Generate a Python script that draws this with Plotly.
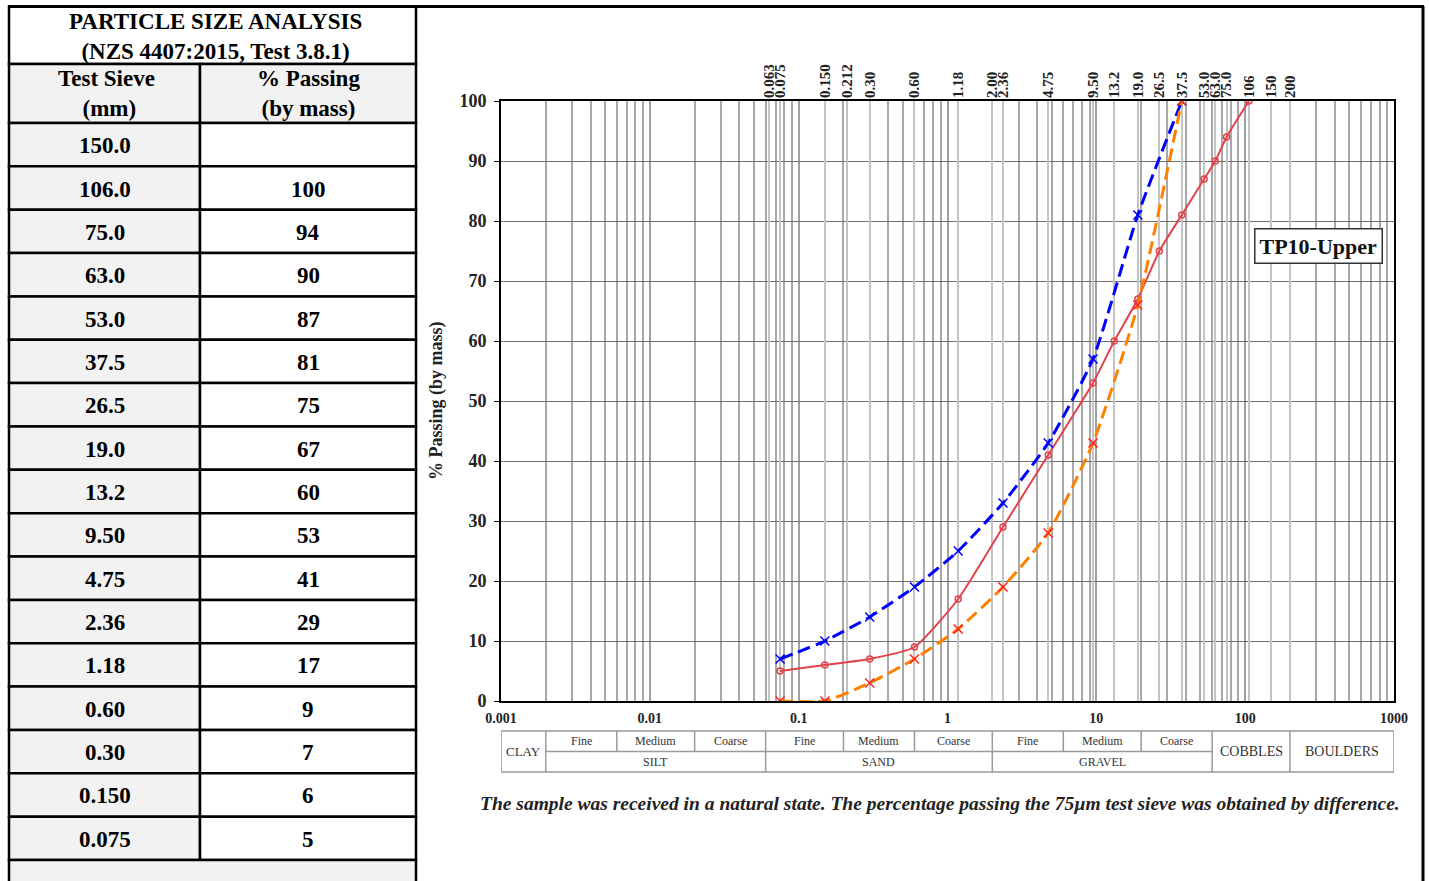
import math
import plotly.graph_objects as go

# ---- data ----
table_sieves = ["150.0", "106.0", "75.0", "63.0", "53.0", "37.5", "26.5", "19.0", "13.2",
                "9.50", "4.75", "2.36", "1.18", "0.60", "0.30", "0.150", "0.075"]
table_passing = ["", "100", "94", "90", "87", "81", "75", "67", "60",
                 "53", "41", "29", "17", "9", "7", "6", "5"]

sample_size = [0.075, 0.150, 0.30, 0.60, 1.18, 2.36, 4.75, 9.50, 13.2, 19.0, 26.5, 37.5, 53.0, 63.0, 75.0, 106.0]
sample_pass = [5, 6, 7, 9, 17, 29, 41, 53, 60, 67, 75, 81, 87, 90, 94, 100]

env_size = [0.075, 0.150, 0.30, 0.60, 1.18, 2.36, 4.75, 9.50, 19.0, 37.5]
env_upper = [7, 10, 14, 19, 25, 33, 43, 57, 81, 100]
env_lower = [0, 0, 3, 7, 12, 19, 28, 43, 66, 100]

sieve_ticks = [0.063, 0.075, 0.150, 0.212, 0.30, 0.60, 1.18, 2.00, 2.36, 4.75, 9.50, 13.2,
               19.0, 26.5, 37.5, 53.0, 63.0, 75.0, 106, 150, 200]
sieve_labels = ["0.063", "0.075", "0.150", "0.212", "0.30", "0.60", "1.18", "2.00", "2.36", "4.75",
                "9.50", "13.2", "19.0", "26.5", "37.5", "53.0", "63.0", "75.0", "106", "150", "200"]

x_ticks = [0.001, 0.01, 0.1, 1, 10, 100, 1000]
x_tick_labels = ["0.001", "0.01", "0.1", "1", "10", "100", "1000"]

# soil classification bands (upper row: sub-class, lower row: class)
sub_bounds = [0.002, 0.006, 0.02, 0.06, 0.2, 0.6, 2, 6, 20, 60]
sub_names = ["Fine", "Medium", "Coarse", "Fine", "Medium", "Coarse", "Fine", "Medium", "Coarse"]
class_bounds = [0.002, 0.06, 2, 60]
class_names = ["SILT", "SAND", "GRAVEL"]

W, H = 1429, 881
SERIF = "Liberation Serif"


def px(x):
    return x / W


def py(y):
    return 1 - y / H


fig = go.Figure()

fig.add_trace(go.Scatter(
    x=sample_size, y=sample_pass, mode="lines+markers", name="TP10-Upper",
    line=dict(color="#e2434a", width=2, shape="spline", smoothing=0.5),
    marker=dict(symbol="circle-open", size=6, color="#e2434a", line=dict(width=1.5)),
))
fig.add_trace(go.Scatter(
    x=env_size, y=env_upper, mode="lines+markers", name="Upper envelope",
    line=dict(color="#0000ff", width=3, dash="13px,6px", shape="spline", smoothing=0.5),
    marker=dict(symbol="x-thin-open", size=9, color="#0000ff", line=dict(width=1.5, color="#0000ff")),
))
fig.add_trace(go.Scatter(
    x=env_size, y=env_lower, mode="lines+markers", name="Lower envelope",
    line=dict(color="#ff8000", width=3, dash="13px,6px", shape="spline", smoothing=0.5),
    marker=dict(symbol="x-thin-open", size=9, color="#ff2020", line=dict(width=1.5, color="#ff2020")),
))
# invisible trace that activates the top sieve axis
fig.add_trace(go.Scatter(x=[0.001], y=[0], xaxis="x2", mode="markers",
                         marker=dict(opacity=0), showlegend=False, hoverinfo="skip"))

minor_grid = [k * 10.0 ** e for e in range(-3, 3) for k in range(2, 10)]

x0p, x1p = px(501), px(1394)
y0p, y1p = py(701), py(101)

fig.update_layout(
    width=W, height=H,
    margin=dict(l=0, r=0, t=0, b=0, autoexpand=False),
    paper_bgcolor="white", plot_bgcolor="white",
    showlegend=False,
    font=dict(family=SERIF, color="black"),
    xaxis=dict(
        type="log", range=[-3, 3], domain=[x0p, x1p], automargin=False,
        tickvals=x_ticks, ticktext=x_tick_labels,
        tickfont=dict(family=SERIF, size=14, color="#222", weight="bold"),
        showgrid=True, gridcolor="#a0a0a0", gridwidth=1.5,
        minor=dict(tickvals=minor_grid, showgrid=True, gridcolor="#a8a8a8", gridwidth=1.5, ticks=""),
        showline=True, linecolor="black", linewidth=2, mirror=True,
        ticks="", ticklabelstandoff=3, zeroline=False,
    ),
    xaxis2=dict(
        type="log", range=[-3, 3], overlaying="x", side="top", anchor="y", automargin=False,
        tickvals=sieve_ticks, ticktext=sieve_labels, tickangle=-90,
        tickfont=dict(family=SERIF, size=15, color="#222", weight="bold"),
        showgrid=True, gridcolor="#c4c4c4", gridwidth=1.5,
        ticks="", showline=False, zeroline=False, ticklabelstandoff=2,
    ),
    yaxis=dict(
        range=[0, 100], domain=[y0p, y1p], dtick=10, automargin=False,
        tickfont=dict(family=SERIF, size=18, color="#222", weight="bold"),
        showgrid=True, gridcolor="#707070", gridwidth=1.2,
        showline=True, linecolor="black", linewidth=2, mirror=True,
        ticks="outside", ticklen=5, tickcolor="black", zeroline=False,
        ticklabelstandoff=4,
    ),
)

shapes = []
annotations = []


def note(x, y, text, font, xref="paper", **kw):
    annotations.append(dict(xref=xref, yref="paper", x=x, y=y, text=text, showarrow=False,
                            xanchor="center", yanchor="middle", font=font, **kw))


# outer frame
shapes.append(dict(type="line", xref="paper", yref="paper", x0=px(8), x1=px(1424), y0=py(6.5), y1=py(6.5),
                   line=dict(color="black", width=3)))
shapes.append(dict(type="line", xref="paper", yref="paper", x0=px(1423), x1=px(1423), y0=py(6), y1=0,
                   line=dict(color="black", width=3)))

# left table
TL, TM, TR = 9, 200, 416
title_top, title_bot = 6.5, 64
head_bot = 123
row_h = (860 - head_bot) / len(table_sieves)
TFONT = dict(size=23, family=SERIF, color="black")


def rect(x0, x1, y0, y1, fill, lw=2.5):
    shapes.append(dict(type="rect", xref="paper", yref="paper", x0=px(x0), x1=px(x1),
                       y0=py(y1), y1=py(y0), fillcolor=fill, line=dict(color="black", width=lw),
                       layer="below"))


rect(TL, TR, title_top, title_bot, "white")
rect(TL, TM, title_bot, head_bot, "#f2f2f2")
rect(TM, TR, title_bot, head_bot, "#f2f2f2")
for i, (s, p) in enumerate(zip(table_sieves, table_passing)):
    ya = head_bot + i * row_h
    yb = ya + row_h
    rect(TL, TM, ya, yb, "#f2f2f2")
    rect(TM, TR, ya, yb, "white")
    note(px((TL + TM) / 2), py((ya + yb) / 2 + 1), f"<b>{s}</b>", TFONT)
    if p:
        note(px((TM + TR) / 2), py((ya + yb) / 2 + 1), f"<b>{p}</b>", TFONT)
rect(TL, TR, 860, 900, "#f2f2f2")

note(px((TL + TR) / 2 + 3), py((title_top + title_bot) / 2 + 1),
     "<b>PARTICLE SIZE ANALYSIS<br>(NZS 4407:2015, Test 3.8.1)</b>", TFONT)
note(px((TL + TM) / 2 + 2), py((title_bot + head_bot) / 2),
     "<b>Test Sieve<br> (mm)</b>", TFONT)
note(px((TM + TR) / 2), py((title_bot + head_bot) / 2),
     "<b>% Passing<br>(by mass)</b>", TFONT)

# y-axis title
note(px(436), py(401), "<b>% Passing (by mass)</b>",
     dict(size=18, family=SERIF, color="#222"), textangle=-90)

# soil classification strip under the plot
cy0, cym, cy1 = 731, 751.5, 772
grey = "#9a9a9a"
shapes.append(dict(type="rect", xref="x", yref="paper", x0=0.001, x1=1000, y0=py(cy1), y1=py(cy0),
                   line=dict(color=grey, width=1.5), fillcolor="white", layer="below"))
for b in sub_bounds:
    bot = cym if b not in class_bounds else cy1
    shapes.append(dict(type="line", xref="x", yref="paper", x0=b, x1=b, y0=py(bot), y1=py(cy0),
                       line=dict(color=grey, width=1.5)))
shapes.append(dict(type="line", xref="x", yref="paper", x0=0.002, x1=60, y0=py(cym), y1=py(cym),
                   line=dict(color=grey, width=1.5)))
shapes.append(dict(type="line", xref="x", yref="paper", x0=200, x1=200, y0=py(cy1), y1=py(cy0),
                   line=dict(color=grey, width=1.5)))

cls_font = dict(size=12, family=SERIF, color="#333")
for i, name in enumerate(sub_names):
    xm = math.log10((sub_bounds[i] * sub_bounds[i + 1]) ** 0.5)
    note(xm, py((cy0 + cym) / 2), name, cls_font, xref="x")
for i, name in enumerate(class_names):
    xm = math.log10((class_bounds[i] * class_bounds[i + 1]) ** 0.5)
    note(xm, py((cym + cy1) / 2), name, cls_font, xref="x")
note(math.log10((0.001 * 0.002) ** 0.5), py((cy0 + cy1) / 2), "CLAY",
     dict(size=13, family=SERIF, color="#333"), xref="x")
note(math.log10((60 * 200) ** 0.5), py((cy0 + cy1) / 2), "COBBLES",
     dict(size=14, family=SERIF, color="#333"), xref="x")
note(math.log10((200 * 1000) ** 0.5), py((cy0 + cy1) / 2), "BOULDERS",
     dict(size=14, family=SERIF, color="#333"), xref="x")

# sample label box
note(px(1318), py(246), "<b>TP10-Upper</b>", dict(size=22, family=SERIF, color="#111"),
     bordercolor="#333", borderwidth=1.5, borderpad=4, bgcolor="white")

# footnote
note(px(940), py(803),
     "<b><i>The sample was received in a natural state. The percentage passing the 75\u00b5m test sieve was obtained by difference.</i></b>",
     dict(size=19.5, family=SERIF, color="#222"))

fig.update_layout(shapes=shapes, annotations=annotations)

fig.write_html("out.html")
